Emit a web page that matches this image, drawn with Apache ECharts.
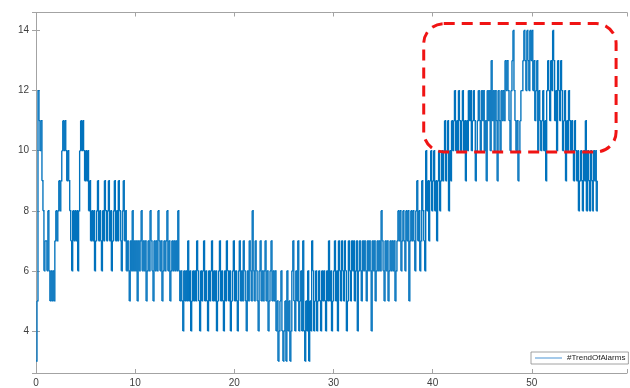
<!DOCTYPE html>
<html>
<head>
<meta charset="utf-8">
<script src="https://cdn.jsdelivr.net/npm/echarts@6/dist/echarts.min.js"></script>
<style>
html,body{margin:0;padding:0;background:#fff;}
#chart{width:630px;height:388px;}
</style>
</head>
<body>
<div id="chart"></div>
<script>
// Sample spacing along x (one sample every 0.1 units)
const xStep = 0.1;
const seriesName = '#TrendOfAlarms';
const xTicks = [0, 10, 20, 30, 40, 50];
const yTicks = [4, 6, 8, 10, 12, 14];

// Values, x = 0.0 ... 9.9
const trendA = [
  3, 5, 12, 11, 10, 11, 9, 8, 6, 7,
  7, 6, 8, 6, 5, 6, 5, 6, 5, 7,
  8, 7, 8, 9, 8, 9, 10, 11, 10, 11,
  10, 9, 10, 9, 8, 7, 6, 8, 7, 8,
  7, 8, 6, 8, 10, 11, 10, 11, 10, 9,
  10, 9, 10, 8, 9, 7, 8, 7, 8, 6,
  7, 8, 9, 7, 8, 7, 6, 8, 7, 9,
  8, 7, 8, 9, 7, 8, 6, 7, 8, 9,
  7, 8, 7, 9, 8, 7, 6, 8, 9, 7,
  8, 6, 7, 6, 5, 7, 6, 8, 6, 7
];
// x = 10.0 ... 19.9
const trendB = [
  6, 7, 5, 7, 6, 7, 8, 6, 7, 6,
  7, 5, 6, 7, 6, 8, 7, 6, 5, 7,
  6, 7, 6, 8, 7, 6, 7, 5, 6, 7,
  6, 7, 8, 6, 7, 5, 6, 7, 6, 7,
  6, 7, 6, 8, 6, 5, 6, 5, 4, 6,
  5, 6, 5, 7, 5, 6, 4, 5, 6, 5,
  6, 5, 7, 6, 5, 4, 6, 5, 6, 7,
  5, 6, 5, 4, 6, 5, 6, 7, 5, 6,
  5, 6, 4, 5, 6, 7, 5, 6, 5, 4,
  6, 5, 7, 6, 5, 6, 4, 5, 6, 7
];
// x = 20.0 ... 29.9
const trendC = [
  5, 6, 5, 4, 6, 7, 5, 6, 5, 7,
  6, 5, 4, 6, 5, 7, 6, 5, 8, 6,
  5, 7, 6, 5, 4, 6, 7, 5, 6, 5,
  6, 7, 5, 6, 4, 5, 6, 7, 5, 6,
  5, 6, 4, 5, 3, 4, 5, 6, 4, 3,
  4, 5, 3, 6, 4, 5, 3, 4, 6, 7,
  5, 4, 6, 5, 7, 4, 5, 6, 4, 7,
  4, 3, 5, 4, 6, 3, 5, 4, 7, 6,
  4, 5, 6, 4, 5, 6, 5, 4, 6, 5,
  6, 5, 4, 6, 5, 7, 5, 6, 4, 5
];
// x = 30.0 ... 39.9
const trendD = [
  6, 7, 5, 6, 4, 7, 6, 5, 7, 6,
  5, 7, 6, 4, 5, 7, 6, 5, 7, 6,
  7, 5, 6, 7, 4, 6, 7, 6, 5, 7,
  6, 7, 6, 5, 7, 6, 7, 6, 4, 7,
  6, 7, 5, 6, 7, 6, 7, 6, 8, 7,
  6, 5, 7, 6, 7, 5, 6, 7, 6, 7,
  6, 7, 5, 6, 7, 8, 7, 8, 6, 7,
  8, 7, 6, 8, 7, 8, 5, 7, 8, 7,
  8, 7, 6, 8, 9, 7, 8, 6, 7, 9,
  8, 7, 6, 10, 8, 9, 7, 9, 10, 8
];
// x = 40.0 ... 49.9
const trendE = [
  9, 10, 8, 9, 7, 9, 10, 8, 9, 10,
  9, 10, 11, 9, 10, 11, 8, 10, 9, 11,
  10, 11, 12, 10, 11, 10, 12, 11, 10, 11,
  12, 10, 11, 9, 11, 10, 12, 11, 12, 10,
  11, 12, 11, 9, 10, 11, 12, 11, 10, 12,
  11, 12, 10, 11, 9, 12, 11, 12, 10, 13,
  11, 12, 10, 12, 11, 9, 12, 11, 10, 12,
  11, 12, 11, 13, 12, 13, 12, 11, 10, 12,
  13, 14, 12, 11, 10, 11, 9, 10, 11, 12,
  12, 13, 14, 13, 12, 14, 13, 12, 14, 13
];
// x = 50.0 ... 56.6
const trendF = [
  14, 12, 13, 11, 12, 13, 10, 12, 11, 10,
  11, 12, 10, 11, 9, 12, 13, 12, 11, 13,
  12, 14, 13, 11, 12, 10, 13, 12, 11, 13,
  12, 10, 11, 12, 9, 11, 10, 12, 11, 10,
  11, 10, 9, 11, 10, 9, 10, 8, 9, 10,
  9, 8, 10, 9, 11, 8, 10, 9, 8, 10,
  9, 8, 10, 9, 10, 8, 9
];

// Annotation box (data coordinates)
const boxX = [39.1, 58.5];
const boxY = [9.96, 14.23];

const values = [].concat(trendA, trendB, trendC, trendD, trendE, trendF);
// each item: [x, value, previous x, previous value]
const seriesData = values.map((v, i) => {
  const j = i > 0 ? i - 1 : 0;
  return [Math.round(i * xStep * 10) / 10, v, Math.round(j * xStep * 10) / 10, values[j]];
});

const chart = echarts.init(document.getElementById('chart'), null, {renderer: 'canvas'});
const axisColor = '#a3a3a3';
const labelColor = '#404040';
const lineColor = '#0072BD';
const fontFamily = 'Helvetica, Arial, "Liberation Sans", sans-serif';

function xLabel(v) { return xTicks.indexOf(v) >= 0 ? String(v) : ''; }
function yLabel(v) { return yTicks.indexOf(v) >= 0 ? String(v) : ''; }

function renderStep(params, api) {
  const a = api.coord([api.value(2), api.value(3)]);
  const b = api.coord([api.value(0), api.value(3)]);
  const c = api.coord([api.value(0), api.value(1)]);
  return {
    type: 'polyline',
    shape: {points: [a, b, c]},
    style: {stroke: lineColor, lineWidth: 1.35, fill: null, lineJoin: 'miter', lineCap: 'butt'}
  };
}

chart.setOption({
  animation: false,
  backgroundColor: '#ffffff',
  grid: {left: 36, top: 12.5, right: 1, bottom: 14, containLabel: false},
  xAxis: [{
    type: 'value', min: 0, max: 59.6, splitNumber: 6, position: 'bottom',
    axisLine: {show: true, lineStyle: {color: axisColor, width: 1}},
    axisTick: {show: true, inside: true, length: 4, lineStyle: {color: axisColor}},
    axisLabel: {show: true, margin: 5, color: labelColor, fontSize: 10, fontFamily: fontFamily, formatter: xLabel},
    splitLine: {show: false}
  }, {
    type: 'value', min: 0, max: 59.6, splitNumber: 6, position: 'top',
    axisLine: {show: true, lineStyle: {color: axisColor, width: 1}},
    axisTick: {show: true, inside: true, length: 4, lineStyle: {color: axisColor}},
    axisLabel: {show: false},
    splitLine: {show: false}
  }],
  yAxis: [{
    type: 'value', min: 2.6, max: 14.6, splitNumber: 6, position: 'left',
    axisLine: {show: true, lineStyle: {color: axisColor, width: 1}},
    axisTick: {show: true, inside: true, length: 4, lineStyle: {color: axisColor}},
    axisLabel: {show: true, margin: 7, color: labelColor, fontSize: 10, fontFamily: fontFamily, formatter: yLabel},
    splitLine: {show: false}
  }, {
    type: 'value', min: 2.6, max: 14.6, splitNumber: 6, position: 'right',
    axisLine: {show: true, lineStyle: {color: axisColor, width: 1}},
    axisTick: {show: true, inside: true, length: 4, lineStyle: {color: axisColor}},
    axisLabel: {show: false},
    splitLine: {show: false}
  }],
  legend: {
    show: true, left: 531, top: 352, orient: 'horizontal',
    backgroundColor: '#ffffff', borderColor: '#8c8c8c', borderWidth: 0.8,
    padding: [2, 3, 2, 4], itemGap: 4,
    itemWidth: 27, itemHeight: 1, icon: 'rect',
    textStyle: {fontSize: 8, color: '#222', fontFamily: fontFamily, padding: [0, 0, 0, 0]},
    data: [{name: seriesName, itemStyle: {color: '#4a94d4'}}]
  },
  series: [{
    name: seriesName, type: 'custom', xAxisIndex: 0, yAxisIndex: 0,
    data: seriesData, renderItem: renderStep,
    encode: {x: 0, y: 1},
    itemStyle: {color: lineColor},
    clip: true, z: 2, silent: true
  }]
});

const p1 = chart.convertToPixel({gridIndex: 0}, [boxX[0], boxY[1]]);
const p2 = chart.convertToPixel({gridIndex: 0}, [boxX[1], boxY[0]]);
chart.setOption({
  graphic: [{
    type: 'rect', z: 100,
    shape: {x: p1[0], y: p1[1], width: p2[0] - p1[0], height: p2[1] - p1[1], r: 20},
    style: {fill: 'none', stroke: '#f01414', lineWidth: 3, lineDash: [11, 7]}
  }]
});
</script>
</body>
</html>
